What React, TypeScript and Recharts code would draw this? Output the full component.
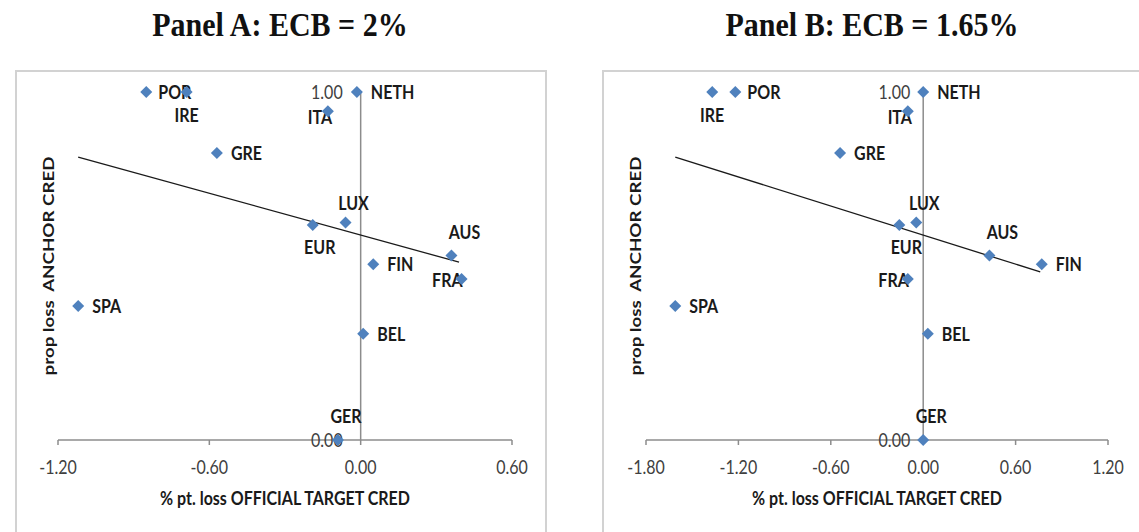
import React from 'react'
import { ScatterChart, Scatter, XAxis, YAxis, ReferenceLine, ReferenceDot } from 'recharts'

// countries, in the order the values below are listed
const countries = ['POR', 'IRE', 'GRE', 'SPA', 'NETH', 'ITA', 'LUX', 'EUR', 'AUS', 'FIN', 'FRA', 'BEL', 'GER']

// prop loss ANCHOR CRED (same in both panels)
const anchorLoss = [1.0, 1.0, 0.825, 0.385, 1.0, 0.945, 0.625, 0.618, 0.53, 0.505, 0.463, 0.305, 0.0]

// % pt. loss OFFICIAL TARGET CRED
const targetLossA = [-0.85, -0.69, -0.57, -1.12, -0.015, -0.13, -0.06, -0.19, 0.36, 0.05, 0.4, 0.01, -0.09]
const targetLossB = [-1.22, -1.37, -0.54, -1.61, 0.0, -0.1, -0.045, -0.155, 0.43, 0.77, -0.1, 0.03, 0.0]

// linear trend lines (end points)
const trendAX = [-1.12, 0.39]
const trendAY = [0.813, 0.511]
const trendBX = [-1.61, 0.76]
const trendBY = [0.813, 0.483]

const ticksA = [-1.2, -0.6, 0, 0.6]
const ticksB = [-1.8, -1.2, -0.6, 0, 0.6, 1.2]
const yTicks = [0, 1]

const BLUE = '#4f81bd'
const AXIS = '#8c8c8c'
const FONT = 'Lato, "Open Sans", sans-serif'
const STRETCH = 1.17 // the source picture is a bit taller than wide

// where each data label sits relative to its marker
const labelSpot: Record<string, { dx: number; dy: number; anchor: 'start' | 'middle' | 'end' }> = {
    POR: { dx: 12, dy: 0, anchor: 'start' },
    IRE: { dx: 0, dy: 23, anchor: 'middle' },
    GRE: { dx: 14, dy: 0, anchor: 'start' },
    SPA: { dx: 14, dy: 0, anchor: 'start' },
    NETH: { dx: 14, dy: 0, anchor: 'start' },
    ITA: { dx: -8, dy: 6, anchor: 'middle' },
    LUX: { dx: 8, dy: -19, anchor: 'middle' },
    EUR: { dx: 7, dy: 22, anchor: 'middle' },
    AUS: { dx: 13, dy: -24, anchor: 'middle' },
    FIN: { dx: 14, dy: 0, anchor: 'start' },
    FRA: { dx: 1, dy: 1, anchor: 'end' },
    BEL: { dx: 14, dy: 0, anchor: 'start' },
    GER: { dx: 8, dy: -24, anchor: 'middle' },
}

// text centred vertically on y, stretched a little in height
function TallText({ x, y, anchor = 'middle', bold = false, fill = '#1a1a1a', children }: any) {
    return (
        <text
            x={x}
            y={y}
            transform={`matrix(1,0,0,${STRETCH},0,${-(STRETCH - 1) * y})`}
            textAnchor={anchor}
            dominantBaseline="central"
            fontFamily={FONT}
            fontWeight={bold ? 700 : 400}
            fontSize={16}
            fill={fill}
        >
            {children}
        </text>
    )
}

function CountryPoint(props: any) {
    const { cx, cy, payload } = props
    if (cx == null || cy == null) return null
    const spot = labelSpot[payload.name]
    const r = 6
    return (
        <g>
            <TallText x={cx + spot.dx} y={cy + spot.dy} anchor={spot.anchor} bold>
                {payload.name}
            </TallText>
            <polygon points={`${cx},${cy - r} ${cx + r},${cy} ${cx},${cy + r} ${cx - r},${cy}`} fill={BLUE} />
        </g>
    )
}

function XTick(props: any) {
    const { x, y, payload } = props
    return (
        <TallText x={x} y={y + 7} fill="#404040">
            {Number(payload.value).toFixed(2)}
        </TallText>
    )
}

function XTitle(props: any) {
    const vb = props.viewBox || { x: 0, y: 0, width: 0, height: 0 }
    return (
        <TallText x={vb.x + vb.width / 2} y={vb.y + vb.height + 28} bold>
            % pt. loss OFFICIAL TARGET CRED
        </TallText>
    )
}

function YTitle(props: any) {
    const vb = props.viewBox || { x: 0, y: 0, width: 0, height: 0 }
    const x = vb.x + 32
    const y = vb.y + vb.height / 2
    return (
        <text
            x={0}
            y={0}
            transform={`translate(${x}, ${y}) rotate(-90) scale(${STRETCH}, 1)`}
            textAnchor="middle"
            dominantBaseline="central"
            fontFamily={FONT}
            fontWeight={700}
            fontSize={16}
            fill="#1a1a1a"
            style={{ whiteSpace: 'pre' }}
        >
            prop loss  ANCHOR CRED
        </text>
    )
}

function AxisValue(props: any) {
    const vb = props.viewBox || { x: 0, y: 0 }
    return (
        <TallText x={vb.x - props.gap} y={vb.y} anchor="end" fill="#404040">
            {props.text}
        </TallText>
    )
}

interface PanelProps {
    xs: number[]
    trendX: number[]
    trendY: number[]
    ticks: number[]
    width: number
    marginRight: number
    yAxisWidth: number
    zeroGap: number
}

function Panel({ xs, trendX, trendY, ticks, width, marginRight, yAxisWidth, zeroGap }: PanelProps) {
    const points = countries.map((name, i) => ({ name, x: xs[i], y: anchorLoss[i] }))
    const trend = trendX.map((x, i) => ({ x, y: trendY[i] }))
    const domain = [ticks[0], ticks[ticks.length - 1]]

    return (
        <ScatterChart width={width} height={460} margin={{ top: 21, right: marginRight, bottom: 61, left: 0 }}>
            <XAxis
                dataKey="x"
                type="number"
                domain={domain}
                ticks={ticks}
                interval={0}
                axisLine={{ stroke: AXIS, strokeWidth: 1.5 }}
                tickLine={{ stroke: AXIS, strokeWidth: 1.5 }}
                tickSize={5}
                tickMargin={15}
                tick={<XTick />}
                height={30}
                label={<XTitle />}
            />
            <YAxis
                dataKey="y"
                type="number"
                domain={[0, 1]}
                width={yAxisWidth}
                tick={false}
                axisLine={false}
                tickLine={false}
                label={<YTitle />}
            />
            <ReferenceLine x={0} stroke={AXIS} strokeWidth={1.5} />
            {yTicks.map((t) => (
                <ReferenceDot
                    key={t}
                    x={0}
                    y={t}
                    r={0}
                    fill="none"
                    stroke="none"
                    label={<AxisValue gap={zeroGap} text={t.toFixed(2)} />}
                />
            ))}
            <Scatter
                data={trend}
                line={{ stroke: '#1a1a1a', strokeWidth: 1.3 }}
                shape={() => <g />}
                isAnimationActive={false}
            />
            <Scatter data={points} shape={(p: any) => <CountryPoint {...p} />} isAnimationActive={false} />
        </ScatterChart>
    )
}

const titleStyle: React.CSSProperties = {
    position: 'absolute',
    top: 6,
    width: 500,
    textAlign: 'center',
    fontFamily: '"Liberation Serif", "Times New Roman", serif',
    fontWeight: 700,
    fontSize: 30,
    lineHeight: '38px',
    color: '#111',
    transform: 'scaleY(1.12)',
}

const frameStyle: React.CSSProperties = {
    position: 'absolute',
    top: 70,
    height: 480,
    border: '2px solid #d2d2d2',
    boxSizing: 'border-box',
}

export default function App() {
    return (
        <div
            style={{
                position: 'absolute',
                left: 0,
                top: 0,
                width: 1139,
                height: 532,
                overflow: 'hidden',
                background: '#fff',
            }}
        >
            <div style={{ ...titleStyle, left: 280 - 250 }}>Panel A: ECB = 2%</div>
            <div style={{ ...titleStyle, left: 872 - 250 }}>Panel B: ECB = 1.65%</div>

            <div style={{ ...frameStyle, left: 15, width: 532 }} />
            <div style={{ ...frameStyle, left: 602, width: 560 }} />

            <div style={{ position: 'absolute', left: 16, top: 71 }}>
                <Panel
                    xs={targetLossA}
                    trendX={trendAX}
                    trendY={trendAY}
                    ticks={ticksA}
                    width={530}
                    marginRight={34}
                    yAxisWidth={42}
                    zeroGap={18}
                />
            </div>
            <div style={{ position: 'absolute', left: 603, top: 71 }}>
                <Panel
                    xs={targetLossB}
                    trendX={trendBX}
                    trendY={trendBY}
                    ticks={ticksB}
                    width={545}
                    marginRight={40}
                    yAxisWidth={43}
                    zeroGap={13}
                />
            </div>
        </div>
    )
}
